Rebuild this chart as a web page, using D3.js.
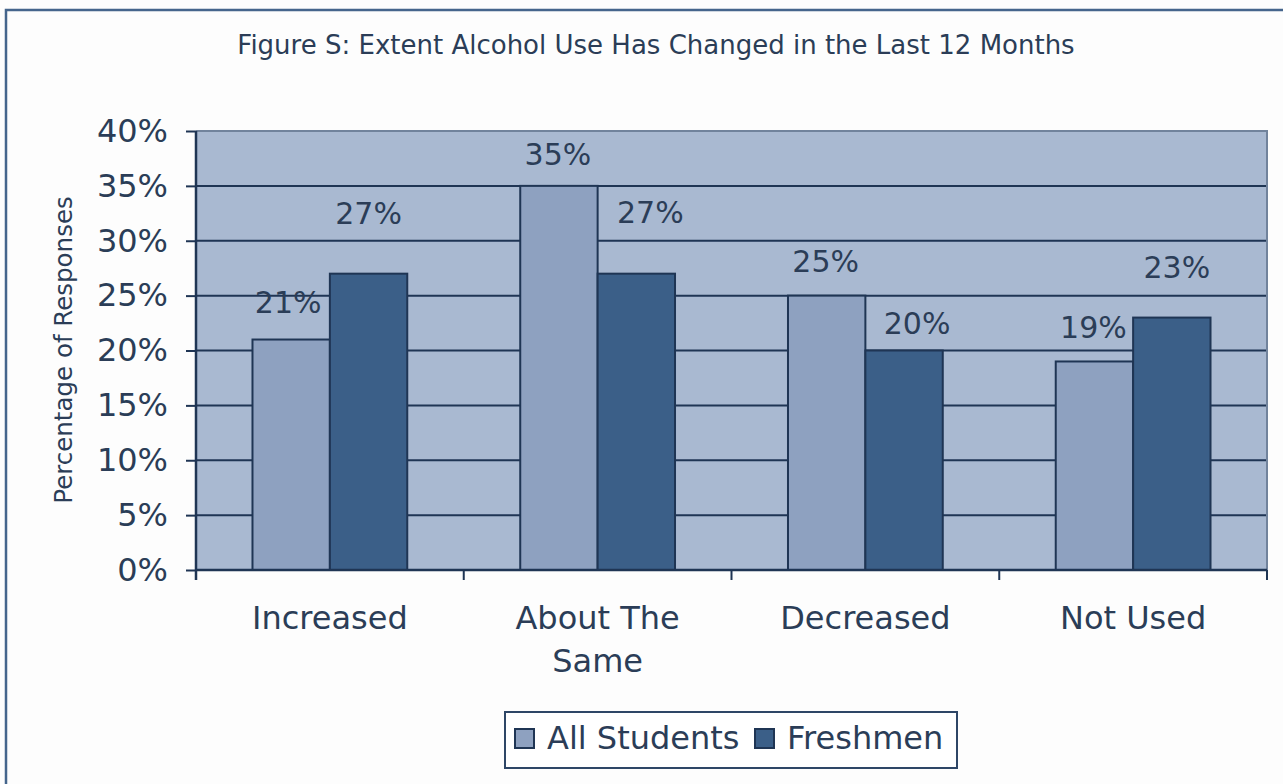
<!DOCTYPE html>
<html>
<head>
<meta charset="utf-8">
<script src="https://cdn.jsdelivr.net/npm/d3@7"></script>
<style>
  html, body { margin: 0; padding: 0; background: #fdfdfd; }
  svg { display: block; }
  text { font-family: "DejaVu Sans", Verdana, sans-serif; fill: #2b3d57; }
</style>
</head>
<body>
<svg id="chart" width="1283" height="784"></svg>
<script>
// ---- data ----
const categories = ["Increased", "About The Same", "Decreased", "Not Used"];
const categoryLines = [["Increased"], ["About The", "Same"], ["Decreased"], ["Not Used"]];
const seriesNames = ["All Students", "Freshmen"];
const allStudents = [21, 35, 25, 19];
const freshmen = [27, 27, 20, 23];
const yTicks = [0, 5, 10, 15, 20, 25, 30, 35, 40];
const titleText = "Figure S: Extent Alcohol Use Has Changed in the Last 12 Months";
const yTitle = "Percentage of Responses";

// hand-placed value label nudges [dx, dy] relative to each bar's top centre
const labelNudgeAll = [[-3, -37], [-1, -31], [-1, -34], [-1, -34]];
const labelNudgeFresh = [[0, -60], [14, -61], [13, -27], [5, -50]];

// ---- styling ----
const colors = { "All Students": "#8ea1c0", "Freshmen": "#3b5f88" };
const plotBg = "#a9b9d1";
const ink = "#1f3554";

const svg = d3.select("#chart");
const plot = { left: 196, right: 1267, top: 131, bottom: 570 };

// outer frame
svg.append("path")
  .attr("d", "M6,800 L6,10 L1290,10")
  .attr("fill", "none").attr("stroke", "#45658c").attr("stroke-width", 2.5);

// title
svg.append("text")
  .attr("x", 656).attr("y", 54)
  .attr("text-anchor", "middle")
  .attr("font-size", 26)
  .text(titleText);

// scales
const x0 = d3.scaleBand().domain(categories).range([plot.left, plot.right]).padding(0);
const x1 = d3.scaleBand().domain(seriesNames).range([0, x0.bandwidth()]).paddingInner(0).paddingOuter(0.73);
const y = d3.scaleLinear().domain([0, 40]).range([plot.bottom, plot.top]);

// plot background
svg.append("rect")
  .attr("x", plot.left).attr("y", plot.top)
  .attr("width", plot.right - plot.left).attr("height", plot.bottom - plot.top)
  .attr("fill", plotBg);

// gridlines
svg.append("g").selectAll("line")
  .data(yTicks.filter(t => t > 0 && t < 40))
  .join("line")
  .attr("x1", plot.left).attr("x2", plot.right)
  .attr("y1", d => y(d)).attr("y2", d => y(d))
  .attr("stroke", ink).attr("stroke-width", 2);

// top and right edges of the plot area
svg.append("path")
  .attr("d", `M${plot.left},${plot.top} L${plot.right},${plot.top} L${plot.right},${plot.bottom}`)
  .attr("fill", "none").attr("stroke", "#71839c").attr("stroke-width", 2);

const rows = categories.map((c, i) => ({
  cat: c, i,
  vals: [
    { s: "All Students", v: allStudents[i], nudge: labelNudgeAll[i] },
    { s: "Freshmen", v: freshmen[i], nudge: labelNudgeFresh[i] }
  ]
}));

function seriesRows(seriesName) {
  return rows.map(r => ({ cat: r.cat, ...r.vals.find(d => d.s === seriesName) }));
}

function drawBars(seriesName) {
  svg.append("g").selectAll("rect")
    .data(seriesRows(seriesName))
    .join("rect")
    .attr("x", d => x0(d.cat) + x1(d.s))
    .attr("y", d => y(d.v))
    .attr("width", x1.bandwidth())
    .attr("height", d => y(0) - y(d.v))
    .attr("fill", colors[seriesName])
    .attr("stroke", ink).attr("stroke-width", 2);
}

function drawLabels(seriesName) {
  svg.append("g").selectAll("text")
    .data(seriesRows(seriesName))
    .join("text")
    .attr("x", d => x0(d.cat) + x1(d.s) + x1.bandwidth() / 2 + d.nudge[0])
    .attr("y", d => y(d.v) + d.nudge[1])
    .attr("text-anchor", "middle")
    .attr("dominant-baseline", "central")
    .attr("font-size", 30)
    .text(d => d.v + "%");
}

// first series' labels sit behind the second series' bars
drawBars("All Students");
drawLabels("All Students");
drawBars("Freshmen");
drawLabels("Freshmen");

// y axis
const yAxis = svg.append("g")
  .attr("transform", `translate(${plot.left},0)`)
  .call(d3.axisLeft(y).tickValues(yTicks).tickFormat(d => d + "%").tickSize(10).tickPadding(18));
yAxis.select(".domain").attr("stroke", ink).attr("stroke-width", 2.5).attr("d", `M0,${plot.top}V${plot.bottom + 10}`);
yAxis.selectAll(".tick line").attr("stroke", ink).attr("stroke-width", 2);
yAxis.selectAll(".tick text")
  .attr("font-family", "DejaVu Sans, sans-serif")
  .attr("font-size", 32).attr("fill", "#2b3d57");

// x axis: ticks at category boundaries
const xg = svg.append("g");
xg.append("line")
  .attr("x1", plot.left).attr("x2", plot.right)
  .attr("y1", plot.bottom).attr("y2", plot.bottom)
  .attr("stroke", ink).attr("stroke-width", 2.5);
const bounds = categories.map(c => x0(c)).concat([plot.right]);
xg.selectAll("line.tk").data(bounds).join("line").attr("class", "tk")
  .attr("x1", d => d).attr("x2", d => d)
  .attr("y1", plot.bottom).attr("y2", plot.bottom + 10)
  .attr("stroke", ink).attr("stroke-width", 2);

// category labels
const xl = svg.append("g").selectAll("text")
  .data(categories.map((c, i) => ({ c, lines: categoryLines[i] })))
  .join("text")
  .attr("x", d => x0(d.c) + x0.bandwidth() / 2)
  .attr("y", 629)
  .attr("text-anchor", "middle")
  .attr("font-size", 32);
xl.selectAll("tspan")
  .data(d => d.lines.map(l => ({ l, x: x0(d.c) + x0.bandwidth() / 2 })))
  .join("tspan")
  .attr("x", d => d.x)
  .attr("dy", (d, i) => i === 0 ? 0 : 43)
  .text(d => d.l);

// y axis title
svg.append("text")
  .attr("transform", "translate(72,350) rotate(-90)")
  .attr("text-anchor", "middle")
  .attr("font-size", 24.5)
  .text(yTitle);

// legend
const lg = svg.append("g");
lg.append("rect")
  .attr("x", 505).attr("y", 712).attr("width", 452).attr("height", 56)
  .attr("fill", "#ffffff").attr("stroke", "#2e4666").attr("stroke-width", 2);
const legendX = [515, 755];
seriesNames.forEach((s, i) => {
  lg.append("rect")
    .attr("x", legendX[i]).attr("y", 729).attr("width", 19).attr("height", 19)
    .attr("fill", colors[s]).attr("stroke", ink).attr("stroke-width", 2);
  lg.append("text")
    .attr("x", legendX[i] + 32).attr("y", 749)
    .attr("font-size", 32)
    .text(s);
});
</script>
</body>
</html>
